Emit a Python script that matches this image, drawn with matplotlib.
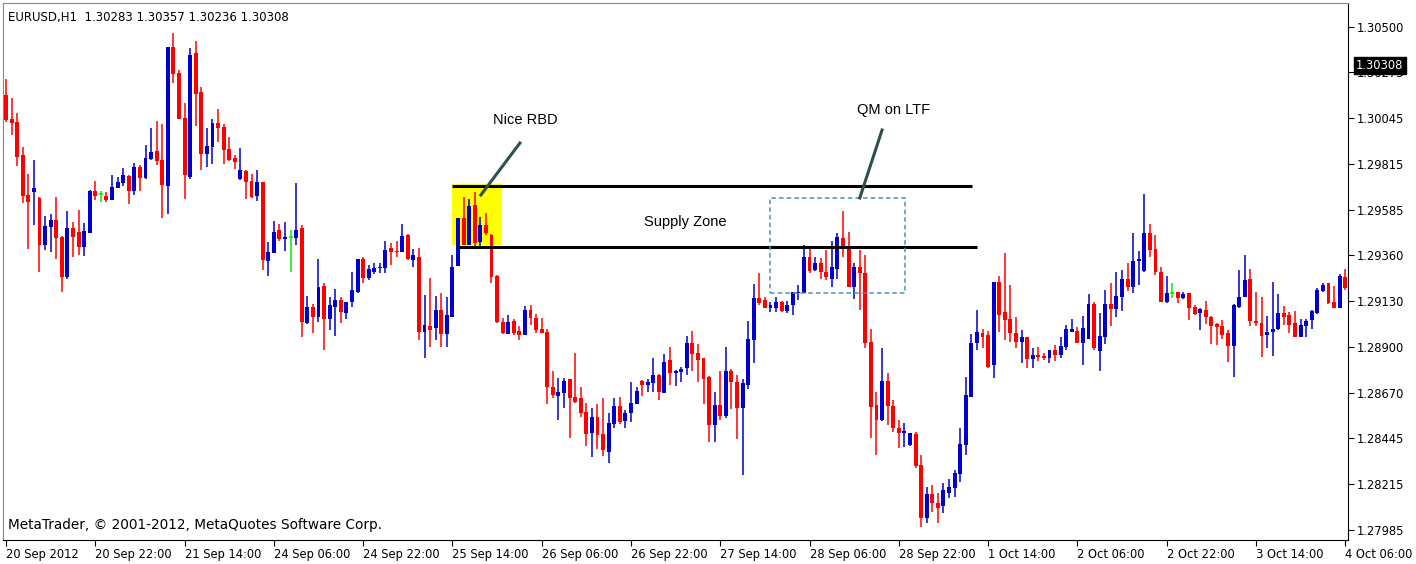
import matplotlib
matplotlib.use("Agg")
import matplotlib.pyplot as plt
from matplotlib.patches import Rectangle

# EURUSD H1 candles, 20 Sep 2012 06:00 .. 4 Oct 2012 06:00 (prices)
opens = [
    1.30160, 1.30040, 1.30025, 1.29860, 1.29660, 1.29675, 1.29645, 1.29410, 1.29500, 1.29535,
    1.29450, 1.29250, 1.29495, 1.29475, 1.29400, 1.29470, 1.29680, 1.29665, 1.29655, 1.29635,
    1.29695, 1.29720, 1.29755, 1.29680, 1.29800, 1.29745, 1.29840, 1.29880, 1.29835, 1.29705,
    1.30400, 1.30270, 1.30045, 1.29750, 1.30370, 1.30175, 1.29865, 1.29900, 1.30020, 1.30000,
    1.29890, 1.29845, 1.29740, 1.29780, 1.29730, 1.29655, 1.29725, 1.29330, 1.29370, 1.29485,
    1.29440, 1.29450, 1.29445, 1.29495, 1.29020, 1.29100, 1.29050, 1.29205, 1.29040, 1.29100,
    1.29135, 1.29070, 1.29125, 1.29175, 1.29340, 1.29245, 1.29275, 1.29295, 1.29295, 1.29395,
    1.29380, 1.29375, 1.29460, 1.29335, 1.29350, 1.28975, 1.29005, 1.28995, 1.29085, 1.28965,
    1.29050, 1.29305, 1.29545, 1.29410, 1.29610, 1.29425, 1.29510, 1.29460, 1.29255, 1.29025,
    1.28965, 1.29030, 1.28980, 1.28960, 1.29085, 1.29045, 1.28990, 1.28975, 1.28700, 1.28655,
    1.28670, 1.28740, 1.28650, 1.28645, 1.28575, 1.28470, 1.28550, 1.28465, 1.28375, 1.28515,
    1.28605, 1.28530, 1.28570, 1.28615, 1.28730, 1.28710, 1.28720, 1.28760, 1.28670, 1.28835,
    1.28770, 1.28775, 1.28795, 1.28920, 1.28870, 1.28845, 1.28750, 1.28510, 1.28610, 1.28555,
    1.28780, 1.28725, 1.28595, 1.28710, 1.28935, 1.29145, 1.29135, 1.29095, 1.29095, 1.29125,
    1.29080, 1.29110, 1.29170, 1.29170, 1.29350, 1.29285, 1.29320, 1.29275, 1.29240, 1.29290,
    1.29445, 1.29400, 1.29200, 1.29300, 1.29270, 1.28925, 1.28610, 1.28535, 1.28730, 1.28605,
    1.28495, 1.28470, 1.28410, 1.28465, 1.28310, 1.28045, 1.28165, 1.28120, 1.28105, 1.28170,
    1.28195, 1.28265, 1.28410, 1.28650, 1.28920, 1.28970, 1.28960, 1.28810, 1.29225, 1.29075,
    1.29040, 1.28970, 1.28925, 1.28950, 1.28840, 1.28860, 1.28855, 1.28845, 1.28885, 1.28860,
    1.28900, 1.28975, 1.28980, 1.28920, 1.28940, 1.29115, 1.28880, 1.28950, 1.29115, 1.29090,
    1.29150, 1.29240, 1.29200, 1.29330, 1.29280, 1.29470, 1.29390, 1.29275, 1.29125, 1.29170,
    1.29175, 1.29145, 1.29170, 1.29100, 1.29070, 1.29085, 1.29050, 1.29015, 1.29005, 1.28970,
    1.28905, 1.29100, 1.29150, 1.29240, 1.29030, 1.29020, 1.28960, 1.28975, 1.28990, 1.29070,
    1.29060, 1.29020, 1.28950, 1.29005, 1.29035, 1.29070, 1.29180, 1.29220, 1.29125, 1.29095,
    1.29250,
]
highs = [
    1.30240, 1.30145, 1.30070, 1.29900, 1.29765, 1.29835, 1.29650, 1.29555, 1.29565, 1.29650,
    1.29455, 1.29580, 1.29525, 1.29585, 1.29520, 1.29685, 1.29730, 1.29680, 1.29675, 1.29760,
    1.29750, 1.29795, 1.29760, 1.29820, 1.29810, 1.29910, 1.29995, 1.30030, 1.30015, 1.30400,
    1.30470, 1.30285, 1.30120, 1.30395, 1.30430, 1.30200, 1.29995, 1.30040, 1.30090, 1.30015,
    1.29950, 1.29860, 1.29895, 1.29785, 1.29765, 1.29785, 1.29725, 1.29425, 1.29530, 1.29515,
    1.29525, 1.29485, 1.29720, 1.29510, 1.29155, 1.29115, 1.29340, 1.29220, 1.29150, 1.29190,
    1.29150, 1.29125, 1.29275, 1.29340, 1.29350, 1.29310, 1.29320, 1.29320, 1.29430, 1.29420,
    1.29430, 1.29515, 1.29465, 1.29390, 1.29395, 1.29160, 1.29245, 1.29155, 1.29170, 1.29150,
    1.29360, 1.29545, 1.29650, 1.29640, 1.29675, 1.29550, 1.29570, 1.29465, 1.29260, 1.29045,
    1.29060, 1.29040, 1.29005, 1.29105, 1.29110, 1.29065, 1.29045, 1.28990, 1.28780, 1.28745,
    1.28745, 1.28740, 1.28870, 1.28700, 1.28620, 1.28595, 1.28615, 1.28645, 1.28570, 1.28645,
    1.28650, 1.28585, 1.28725, 1.28700, 1.28735, 1.28740, 1.28845, 1.28765, 1.28865, 1.28900,
    1.28785, 1.28800, 1.28955, 1.28980, 1.28915, 1.28845, 1.28755, 1.28675, 1.28780, 1.28900,
    1.28790, 1.28760, 1.28740, 1.29030, 1.29215, 1.29270, 1.29150, 1.29125, 1.29150, 1.29130,
    1.29130, 1.29175, 1.29210, 1.29410, 1.29395, 1.29350, 1.29345, 1.29385, 1.29430, 1.29470,
    1.29580, 1.29475, 1.29320, 1.29385, 1.29360, 1.28990, 1.28675, 1.28895, 1.28770, 1.28635,
    1.28535, 1.28520, 1.28470, 1.28475, 1.28360, 1.28200, 1.28210, 1.28170, 1.28220, 1.28240,
    1.28285, 1.28495, 1.28750, 1.28965, 1.29085, 1.28990, 1.28980, 1.29225, 1.29255, 1.29370,
    1.29210, 1.29050, 1.28985, 1.28950, 1.28895, 1.28900, 1.28870, 1.28885, 1.28910, 1.28950,
    1.29010, 1.29040, 1.29000, 1.29055, 1.29165, 1.29125, 1.29070, 1.29185, 1.29220, 1.29275,
    1.29285, 1.29320, 1.29470, 1.29380, 1.29665, 1.29515, 1.29460, 1.29300, 1.29255, 1.29220,
    1.29175, 1.29175, 1.29170, 1.29110, 1.29095, 1.29130, 1.29055, 1.29020, 1.29035, 1.28985,
    1.29115, 1.29285, 1.29360, 1.29290, 1.29175, 1.29150, 1.29055, 1.29225, 1.29165, 1.29105,
    1.29075, 1.29080, 1.29040, 1.29040, 1.29085, 1.29195, 1.29220, 1.29220, 1.29205, 1.29265,
    1.29290,
]
lows = [
    1.30025, 1.29960, 1.29805, 1.29620, 1.29390, 1.29510, 1.29275, 1.29385, 1.29375, 1.29340,
    1.29175, 1.29240, 1.29350, 1.29360, 1.29355, 1.29470, 1.29635, 1.29625, 1.29625, 1.29635,
    1.29695, 1.29705, 1.29615, 1.29660, 1.29680, 1.29740, 1.29835, 1.29810, 1.29545, 1.29565,
    1.30220, 1.30040, 1.29640, 1.29740, 1.30005, 1.29785, 1.29800, 1.29815, 1.29925, 1.29815,
    1.29830, 1.29790, 1.29735, 1.29640, 1.29645, 1.29630, 1.29285, 1.29255, 1.29370, 1.29430,
    1.29380, 1.29275, 1.29410, 1.28950, 1.29015, 1.28970, 1.29025, 1.28885, 1.28985, 1.28955,
    1.29020, 1.29040, 1.29100, 1.29170, 1.29220, 1.29235, 1.29265, 1.29270, 1.29270, 1.29310,
    1.29350, 1.29375, 1.29335, 1.29300, 1.28935, 1.28845, 1.28900, 1.28935, 1.28900, 1.28900,
    1.29050, 1.29305, 1.29410, 1.29410, 1.29405, 1.29405, 1.29460, 1.29220, 1.29020, 1.28965,
    1.28965, 1.28960, 1.28935, 1.28960, 1.29010, 1.28970, 1.28970, 1.28615, 1.28645, 1.28535,
    1.28595, 1.28445, 1.28620, 1.28550, 1.28405, 1.28350, 1.28390, 1.28355, 1.28320, 1.28495,
    1.28515, 1.28495, 1.28525, 1.28615, 1.28655, 1.28675, 1.28675, 1.28635, 1.28670, 1.28710,
    1.28705, 1.28725, 1.28760, 1.28780, 1.28725, 1.28615, 1.28425, 1.28425, 1.28535, 1.28545,
    1.28590, 1.28440, 1.28260, 1.28690, 1.28820, 1.29110, 1.29095, 1.29075, 1.29075, 1.29075,
    1.29070, 1.29060, 1.29135, 1.29170, 1.29270, 1.29280, 1.29240, 1.29235, 1.29200, 1.29240,
    1.29350, 1.29200, 1.29140, 1.29085, 1.28895, 1.28445, 1.28360, 1.28530, 1.28510, 1.28475,
    1.28395, 1.28400, 1.28405, 1.28295, 1.28000, 1.28020, 1.28075, 1.28020, 1.28070, 1.28145,
    1.28150, 1.28225, 1.28360, 1.28650, 1.28885, 1.28895, 1.28795, 1.28745, 1.28975, 1.28935,
    1.28925, 1.28895, 1.28820, 1.28795, 1.28795, 1.28830, 1.28835, 1.28820, 1.28830, 1.28845,
    1.28885, 1.28975, 1.28920, 1.28810, 1.28940, 1.28885, 1.28780, 1.28915, 1.29005, 1.29050,
    1.29080, 1.29180, 1.29170, 1.29210, 1.29275, 1.29350, 1.29260, 1.29125, 1.29120, 1.29145,
    1.29120, 1.29140, 1.29035, 1.29060, 1.28985, 1.29015, 1.28915, 1.28910, 1.28940, 1.28825,
    1.28750, 1.29095, 1.29150, 1.29005, 1.29005, 1.28850, 1.28895, 1.28855, 1.28985, 1.29010,
    1.28970, 1.28950, 1.28950, 1.28950, 1.28990, 1.29065, 1.29175, 1.29115, 1.29095, 1.29095,
    1.29185,
]
closes = [
    1.30035, 1.30020, 1.29850, 1.29655, 1.29625, 1.29695, 1.29410, 1.29505, 1.29535, 1.29445,
    1.29250, 1.29495, 1.29450, 1.29400, 1.29480, 1.29680, 1.29655, 1.29665, 1.29635, 1.29700,
    1.29725, 1.29760, 1.29680, 1.29800, 1.29745, 1.29845, 1.29875, 1.29830, 1.29710, 1.30400,
    1.30265, 1.30040, 1.29760, 1.30360, 1.30165, 1.29865, 1.29905, 1.30020, 1.29995, 1.29885,
    1.29835, 1.29825, 1.29785, 1.29725, 1.29650, 1.29725, 1.29335, 1.29375, 1.29475, 1.29440,
    1.29450, 1.29450, 1.29485, 1.29025, 1.29100, 1.29050, 1.29200, 1.29040, 1.29110, 1.29135,
    1.29075, 1.29125, 1.29185, 1.29340, 1.29245, 1.29290, 1.29295, 1.29300, 1.29385, 1.29375,
    1.29375, 1.29455, 1.29340, 1.29360, 1.28975, 1.29010, 1.28985, 1.29085, 1.28965, 1.29060,
    1.29300, 1.29545, 1.29410, 1.29605, 1.29420, 1.29510, 1.29470, 1.29250, 1.29025, 1.28970,
    1.29025, 1.28970, 1.28960, 1.29085, 1.29045, 1.28985, 1.28970, 1.28700, 1.28660, 1.28675,
    1.28730, 1.28645, 1.28625, 1.28570, 1.28465, 1.28550, 1.28460, 1.28385, 1.28520, 1.28605,
    1.28525, 1.28570, 1.28620, 1.28680, 1.28710, 1.28725, 1.28760, 1.28675, 1.28825, 1.28770,
    1.28780, 1.28790, 1.28920, 1.28865, 1.28835, 1.28740, 1.28510, 1.28610, 1.28555, 1.28780,
    1.28725, 1.28595, 1.28720, 1.28940, 1.29145, 1.29120, 1.29095, 1.29110, 1.29125, 1.29080,
    1.29110, 1.29175, 1.29175, 1.29350, 1.29280, 1.29320, 1.29275, 1.29250, 1.29300, 1.29450,
    1.29395, 1.29200, 1.29300, 1.29270, 1.28920, 1.28600, 1.28535, 1.28730, 1.28605, 1.28495,
    1.28470, 1.28480, 1.28470, 1.28305, 1.28045, 1.28165, 1.28120, 1.28095, 1.28185, 1.28200,
    1.28270, 1.28415, 1.28660, 1.28920, 1.28975, 1.28950, 1.28800, 1.29225, 1.29060, 1.29035,
    1.28970, 1.28925, 1.28950, 1.28840, 1.28860, 1.28850, 1.28845, 1.28885, 1.28860, 1.28905,
    1.28990, 1.28990, 1.28920, 1.28995, 1.29115, 1.28895, 1.28955, 1.29115, 1.29090, 1.29155,
    1.29240, 1.29200, 1.29330, 1.29340, 1.29470, 1.29385, 1.29275, 1.29125, 1.29170, 1.29170,
    1.29145, 1.29165, 1.29095, 1.29065, 1.29090, 1.29050, 1.29005, 1.29000, 1.28960, 1.28905,
    1.29110, 1.29150, 1.29235, 1.29030, 1.29020, 1.28955, 1.28975, 1.28990, 1.29070, 1.29050,
    1.29010, 1.28950, 1.29010, 1.29030, 1.29080, 1.29185, 1.29210, 1.29120, 1.29095, 1.29255,
    1.29195,
]

xtick_bars = list(range(0, 241, 16))
xtick_labels = ["20 Sep 2012", "20 Sep 22:00", "21 Sep 14:00", "24 Sep 06:00",
                "24 Sep 22:00", "25 Sep 14:00", "26 Sep 06:00", "26 Sep 22:00",
                "27 Sep 14:00", "28 Sep 06:00", "28 Sep 22:00", "1 Oct 14:00",
                "2 Oct 06:00", "2 Oct 22:00", "3 Oct 14:00", "4 Oct 06:00"]
ytick_prices = [1.30500, 1.30275, 1.30045, 1.29815, 1.29585, 1.29360,
                1.29130, 1.28900, 1.28670, 1.28445, 1.28215, 1.27985]
last_price = 1.30308
header = "EURUSD,H1  1.30283 1.30357 1.30236 1.30308"

BULL, BEAR, DOJI = "#0000cc", "#ff0000", "#00ee00"

fig = plt.figure(figsize=(14.16, 5.64), dpi=100)
ax = fig.add_axes([3 / 1416, 24 / 564, 1345 / 1416, 537 / 564])

for i, (o, h, l, c) in enumerate(zip(opens, highs, lows, closes)):
    col = BULL if c > o else (BEAR if c < o else DOJI)
    ax.vlines(i, l, h, color=col, linewidth=1.1, zorder=3)
    if c == o:
        ax.hlines(o, i - 0.35, i + 0.35, color=col, linewidth=1.1, zorder=3)
    else:
        ax.bar(i, abs(c - o), bottom=min(o, c), width=0.7, color=col,
               linewidth=0, zorder=3)

# annotations (supply zone etc.)
ax.add_patch(Rectangle((79.9, 1.29410), 9.0, 0.00305, facecolor="#ffff00",
                       edgecolor="none", zorder=1))
ax.hlines(1.29705, 79.9, 173.1, color="black", linewidth=2.2, zorder=4)
ax.hlines(1.29400, 81.0, 174.0, color="black", linewidth=2.2, zorder=4)
ax.add_patch(Rectangle((136.9, 1.29170), 24.2, 0.00475, facecolor="none",
                       edgecolor="#4f8fbf", linestyle=(0, (3, 2)), linewidth=1.1,
                       zorder=4))
ax.plot([92.1, 85.1], [1.29920, 1.29660], color="#2f4f4f", linewidth=2.2, zorder=5)
ax.plot([157.0, 153.0], [1.29985, 1.29645], color="#2f4f4f", linewidth=2.2, zorder=5)
afont = dict(family="Liberation Sans", fontsize=10.5, color="black", zorder=6)
ax.text(93.0, 1.30035, "Nice RBD", ha="center", va="center", **afont)
ax.text(159.0, 1.30085, "QM on LTF", ha="center", va="center", **afont)
ax.text(121.7, 1.29525, "Supply Zone", ha="center", va="center", **afont)

ax.set_xlim(-0.54, 240.5)
ax.set_ylim(1.27935, 1.30620)

ax.yaxis.tick_right()
ax.set_yticks(ytick_prices)
ax.set_yticklabels([f"{p:.5f}" for p in ytick_prices])
ax.set_xticks(xtick_bars)
ax.set_xticklabels(xtick_labels, ha="left")
ax.tick_params(axis="both", labelsize=8.3, length=4, width=0.8, colors="black",
               pad=2)
for sp in ["left", "top"]:
    ax.spines[sp].set_color("#888888")
    ax.spines[sp].set_linewidth(0.8)
for sp in ["right", "bottom"]:
    ax.spines[sp].set_color("black")
    ax.spines[sp].set_linewidth(0.8)

# current-price marker on the price scale (covers part of 1.30275, as in MT4)
ax.text(1.006, last_price, f"{last_price:.5f}", transform=ax.get_yaxis_transform(),
        ha="left", va="center", fontsize=8.3, color="white",
        bbox=dict(facecolor="black", edgecolor="black", pad=1.5), zorder=10,
        clip_on=False)

ax.text(0.004, 0.985, header, transform=ax.transAxes, ha="left", va="top",
        fontsize=8.5, color="black")
ax.text(0.004, 0.015, "MetaTrader, \u00a9 2001-2012, MetaQuotes Software Corp.",
        transform=ax.transAxes, ha="left", va="bottom", fontsize=9.8, color="black")

fig.savefig("out.png", dpi=100, facecolor="white")
